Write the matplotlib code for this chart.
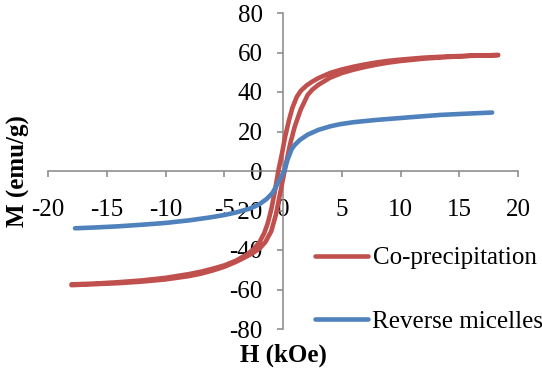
import matplotlib
matplotlib.use("Agg")
import matplotlib.pyplot as plt

plt.rcParams['font.family'] = ['Liberation Serif', 'DejaVu Serif']

# Co-precipitation: descending branch (from +H to -H)
cop_desc_h = [18.3, 16, 14, 12, 10, 9, 8, 7, 6, 5, 4, 3, 2.5, 2, 1.5, 1.17, 0.8, 0.5, 0.17,
              -0.1, -0.4, -0.7, -1.0, -1.3, -1.6, -2.0, -2.5, -3, -4, -5, -6, -7, -8,
              -10, -12, -14, -16, -18]
cop_desc_m = [58.7, 58.4, 58.0, 57.4, 56.4, 55.8, 55.0, 54.0, 52.8, 51.4, 49.6, 47.0, 45.3,
              43.3, 40.5, 37.5, 32.0, 25.5, 17.0, 8.5, 0.0, -10.5, -19.5, -26.5, -31.5,
              -36.0, -39.5, -42.0, -45.4, -47.8, -49.5, -51.0, -52.2, -54.1, -55.4, -56.3,
              -57.0, -57.4]
# Co-precipitation: ascending branch (from -H to +H)
cop_asc_h = [-18, -16, -14, -12, -10, -8, -7, -6, -5, -4, -3, -2.5, -2.0, -1.5, -1.0,
             -0.6, -0.3, 0.0, 0.3, 0.6, 1.0, 1.5, 2.1, 2.5, 3, 4, 5, 6, 7, 8, 9, 10, 12,
             14, 16, 18.3]
cop_asc_m = [-57.8, -57.3, -56.8, -56.0, -54.9, -53.2, -52.0, -50.4, -48.5, -46.0, -43.0,
             -41.3, -39.3, -36.0, -30.5, -22.0, -13.0, -4.0, 5.0, 13.5, 22.5, 31.0, 38.5,
             41.2, 43.6, 47.2, 49.6, 51.3, 52.7, 53.9, 54.9, 55.7, 56.9, 57.7, 58.3, 58.7]

# Reverse micelles
rm_h = [-17.7, -16, -14, -12, -10, -8, -6.2, -5, -4, -2.8, -2, -1.4, -0.9, -0.6, -0.25,
        0.1, 0.4, 0.74, 1.0, 1.45, 2.1, 3, 4, 4.85, 6, 7, 8, 9.1, 11, 13.4, 15.5, 17.8]
rm_m = [-29.0, -28.6, -28.0, -27.2, -26.3, -25.0, -23.5, -22.3, -21.0, -19.0, -16.8,
        -14.2, -11.2, -8.0, -4.0, 0.0, 6.0, 11.1, 13.2, 15.8, 18.4, 20.8, 22.6, 23.7,
        24.7, 25.3, 25.9, 26.4, 27.3, 28.4, 29.0, 29.6]

series_labels = ['Co-precipitation', 'Reverse micelles']
x_ticks = [-20, -15, -10, -5, 0, 5, 10, 15, 20]
y_ticks = [-80, -60, -40, -20, 0, 20, 40, 60, 80]

RED = '#C0504D'
BLUE = '#4F81BD'
GREY = '#868686'

fig = plt.figure(figsize=(5.42, 3.79), dpi=100)
ax = fig.add_axes([48/542, 1-329/379, 470/542, 316/379])

lw = 3.3
kw = dict(lw=lw, solid_capstyle='round', solid_joinstyle='round', zorder=3)
l1, = ax.plot(cop_desc_h + cop_asc_h, cop_desc_m + cop_asc_m, color=RED,
              label=series_labels[0], **kw)
l2, = ax.plot(rm_h, rm_m, color=BLUE, label=series_labels[1], **kw)

ax.set_xlim(-20, 20)
ax.set_ylim(-80, 80)
ax.set_xticks(x_ticks)
ax.set_yticks(y_ticks)
ax.set_xticklabels([str(v) for v in x_ticks])
ax.set_yticklabels([str(v) for v in y_ticks])

for s in ['top', 'right']:
    ax.spines[s].set_visible(False)
ax.spines['left'].set_position(('data', 0))
ax.spines['bottom'].set_position(('data', 0))
for s in ['left', 'bottom']:
    ax.spines[s].set_color(GREY)
    ax.spines[s].set_linewidth(1.1)

ax.tick_params(axis='x', direction='out', length=4.5, width=1.1, color=GREY,
               labelsize=18, pad=16)
ax.tick_params(axis='y', direction='out', length=4.5, width=1.1, color=GREY,
               labelsize=18, pad=10)

ax.set_xlabel('H (kOe)', fontsize=18, fontweight='bold', va='center')
ax.xaxis.set_label_coords(0.5, (329-355)/316)
ax.set_ylabel('M (emu/g)', fontsize=18, fontweight='bold', va='center')
ax.yaxis.set_label_coords((18-48)/470, 0.5)

leg = ax.legend(handles=[l1, l2], loc='center left',
                bbox_to_anchor=(315/542, 1-290/379), bbox_transform=fig.transFigure,
                frameon=False, fontsize=18, handlelength=2.1, handletextpad=0.2,
                labelspacing=1.65, borderpad=0, borderaxespad=0)

fig.savefig('out.png', dpi=100)
